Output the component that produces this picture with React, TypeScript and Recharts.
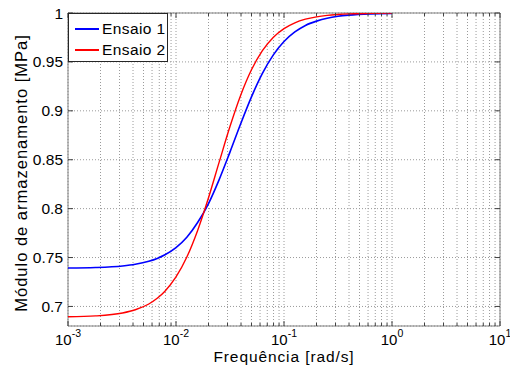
import React from 'react';
import { LineChart, Line, XAxis, YAxis, CartesianGrid, ReferenceArea, Legend } from 'recharts';

const frequencies = [0.001, 0.0018, 0.0032, 0.0042, 0.0056, 0.0067, 0.0079, 0.01, 0.0126, 0.0158, 0.02, 0.0251, 0.0316, 0.0398, 0.0501, 0.0631, 0.0794, 0.1, 0.126, 0.158, 0.2, 0.251, 0.316, 0.398, 0.631, 1];
const ensaio1 = [0.7393, 0.7398, 0.7414, 0.7431, 0.7462, 0.7491, 0.7528, 0.7601, 0.7707, 0.7855, 0.8052, 0.8297, 0.8578, 0.887, 0.9145, 0.9382, 0.9569, 0.9708, 0.9806, 0.9873, 0.9917, 0.9947, 0.9966, 0.9978, 0.9991, 0.9996];
const ensaio2 = [0.6894, 0.6903, 0.6933, 0.6966, 0.7025, 0.7083, 0.7156, 0.7301, 0.7505, 0.7772, 0.8111, 0.8475, 0.8839, 0.9162, 0.9422, 0.9615, 0.975, 0.984, 0.99, 0.9937, 0.9961, 0.9976, 0.9985, 0.9991, 0.9996, 0.9999];

const majorTicks = [0.001, 0.01, 0.1, 1, 10];
const minorMultipliers = [2, 3, 4, 5, 6, 7, 8, 9];
const yTicks = [0.7, 0.75, 0.8, 0.85, 0.9, 0.95, 1];
const yTickLabels = ['0.7', '0.75', '0.8', '0.85', '0.9', '0.95', '1'];
const seriesNames = ['Ensaio 1', 'Ensaio 2'];
const seriesColors = ['#0000ff', '#ff0000'];

const data = frequencies.map((f, i) => ({ f, e1: ensaio1[i], e2: ensaio2[i] }));
const xTicks: number[] = [];
majorTicks.forEach((m, i) => {
  xTicks.push(m);
  if (i < majorTicks.length - 1) minorMultipliers.forEach((k) => xTicks.push(+(m * k).toPrecision(3)));
});

const W = 510;
const H = 374;
const PL = 68;
const PR = 500;
const PT = 13;
const PB = 326;
const FONT = '"Liberation Sans", Arial, sans-serif';
const TICK_COLOR = '#404040';

const isMajor = (v: number) => majorTicks.some((m) => Math.abs(m - v) / m < 1e-6);

const XTick = (props: any) => {
  const { x, payload } = props;
  const v = payload.value;
  const major = isMajor(v);
  const len = major ? 5 : 3;
  return (
    <g>
      <line x1={x} x2={x} y1={PB} y2={PB - len} stroke={TICK_COLOR} strokeWidth={1} />
      <line x1={x} x2={x} y1={PT} y2={PT + len} stroke={TICK_COLOR} strokeWidth={1} />
      {major && (
        <text x={x} y={345} textAnchor="middle" fontFamily={FONT} fontSize={15} fill="#000">
          <tspan>10</tspan>
          <tspan dy={-8} fontSize={10.5}>{String(Math.round(Math.log10(v)))}</tspan>
        </text>
      )}
    </g>
  );
};

const YTick = (props: any) => {
  const { y, payload } = props;
  const idx = yTicks.indexOf(payload.value);
  const label = idx >= 0 ? yTickLabels[idx] : String(payload.value);
  return (
    <g>
      <line x1={PL} x2={PL + 5} y1={y} y2={y} stroke={TICK_COLOR} strokeWidth={1} />
      <line x1={PR} x2={PR - 5} y1={y} y2={y} stroke={TICK_COLOR} strokeWidth={1} />
      <text x={PL - 5} y={y} dy="0.36em" textAnchor="end" fontFamily={FONT} fontSize={15.5} fill="#000">
        {label}
      </text>
    </g>
  );
};

const XTitle = () => (
  <text x={(PL + PR) / 2} y={362} textAnchor="middle" fontFamily={FONT} fontSize={15.5} letterSpacing={0.9} fill="#000">
    Frequência [rad/s]
  </text>
);

const YC = 173;
const YTitle = () => (
  <text
    x={21}
    y={YC}
    transform={`rotate(-90, 21, ${YC})`}
    textAnchor="middle"
    dominantBaseline="central"
    fontFamily={FONT}
    fontSize={16.5}
    letterSpacing={1}
    fill="#000"
  >
    Módulo de armazenamento [MPa]
  </text>
);

const LegendBox = () => (
  <div
    style={{
      width: 100,
      height: 49,
      border: '1px solid #262626',
      background: '#fff',
      fontFamily: FONT,
      fontSize: 15.5,
      boxSizing: 'border-box',
      position: 'relative',
    }}
  >
    {seriesNames.map((name, i) => (
      <div key={name} style={{ position: 'absolute', left: 6, top: 5 + i * 21, height: 20, display: 'flex', alignItems: 'center' }}>
        <div style={{ width: 24, height: 2, background: seriesColors[i] }} />
        <span style={{ marginLeft: 3, letterSpacing: 0.4, color: '#000' }}>{name}</span>
      </div>
    ))}
  </div>
);

export default function App() {
  return (
    <div style={{ position: 'absolute', left: 0, top: 0, width: W, height: H, background: '#fff' }}>
      <LineChart width={W} height={H} data={data} margin={{ top: PT, right: W - PR, bottom: 0, left: 0 }}>
        <CartesianGrid stroke="#9a9a9a" strokeDasharray="1 2" strokeWidth={1} />
        <XAxis
          dataKey="f"
          type="number"
          scale="log"
          domain={[0.001, 10]}
          ticks={xTicks}
          interval={0}
          allowDataOverflow
          height={H - PB}
          axisLine={false}
          tickLine={false}
          tick={<XTick />}
          label={<XTitle />}
        />
        <YAxis
          type="number"
          domain={[0.68, 1]}
          ticks={yTicks}
          interval={0}
          allowDataOverflow
          width={PL}
          axisLine={false}
          tickLine={false}
          tick={<YTick />}
          label={<YTitle />}
        />
        <ReferenceArea x1={0.001} x2={10} y1={0.68} y2={1} fill="none" stroke="#808080" strokeWidth={1} ifOverflow="visible" />
        <Line dataKey="e1" name={seriesNames[0]} type="monotone" stroke={seriesColors[0]} strokeWidth={1.6} dot={false} isAnimationActive={false} />
        <Line dataKey="e2" name={seriesNames[1]} type="monotone" stroke={seriesColors[1]} strokeWidth={1.4} dot={false} isAnimationActive={false} />
        <Legend
          layout="horizontal"
          verticalAlign="middle"
          align="center"
          content={<LegendBox />}
          wrapperStyle={{ left: PL, top: PT, width: 'auto', height: 'auto' }}
        />
      </LineChart>
    </div>
  );
}
